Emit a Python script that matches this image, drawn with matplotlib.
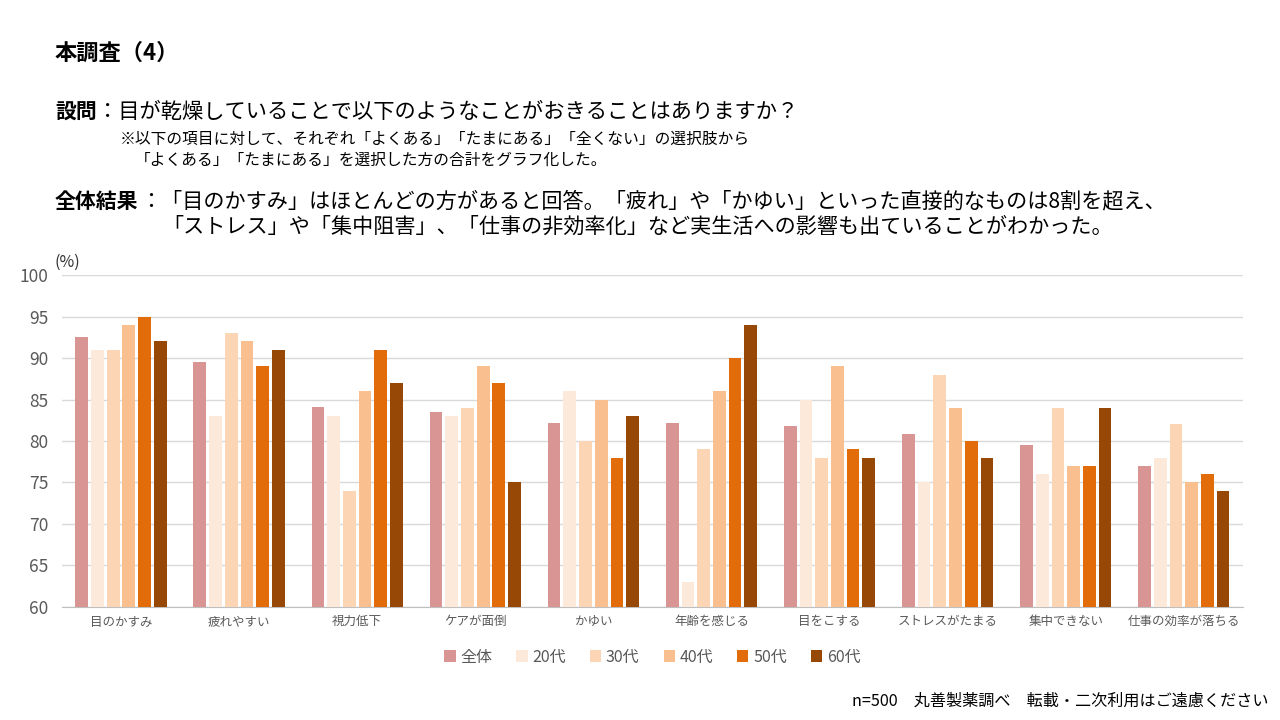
import matplotlib
matplotlib.use("Agg")
import matplotlib.pyplot as plt
import numpy as np

plt.rcParams['font.family'] = ['Noto Sans CJK JP', 'DejaVu Sans']

categories = ["目のかすみ", "疲れやすい", "視力低下", "ケアが面倒", "かゆい",
              "年齢を感じる", "目をこする", "ストレスがたまる", "集中できない", "仕事の効率が落ちる"]
series_names = ["全体", "20代", "30代", "40代", "50代", "60代"]

total = [92.5, 89.5, 84.1, 83.5, 82.2, 82.2, 81.8, 80.9, 79.5, 77.0]
age20 = [91, 83, 83, 83, 86, 63, 85, 75, 76, 78]
age30 = [91, 93, 74, 84, 80, 79, 78, 88, 84, 82]
age40 = [94, 92, 86, 89, 85, 86, 89, 84, 77, 75]
age50 = [95, 89, 91, 87, 78, 90, 79, 80, 77, 76]
age60 = [92, 91, 87, 75, 83, 94, 78, 78, 84, 74]
series = [total, age20, age30, age40, age50, age60]

colors = ["#D99594", "#FDE9D9", "#FCD5B4", "#FABF8F", "#E26B0A", "#974706"]

fig = plt.figure(figsize=(12.8, 7.2), dpi=100)
ax = fig.add_axes([0.0484, 0.157, 0.9226, 0.461])

x = np.arange(len(categories))
slot = 0.133
width = 0.108
for i, (name, vals, c) in enumerate(zip(series_names, series, colors)):
    offs = (i - 2.5) * slot
    ax.bar(x + offs, vals, width, color=c, label=name, zorder=3)

ax.set_ylim(60, 100)
ax.set_xlim(-0.5, len(categories) - 0.5)
ax.set_yticks(range(60, 101, 5))
ax.set_xticks(x)
ax.set_xticklabels(categories, fontsize=9, color="#595959")
ax.tick_params(axis='y', labelsize=12.5, colors="#595959", length=0, pad=10)
ax.tick_params(axis='x', length=0, pad=6)
ax.grid(axis='y', color="#D9D9D9", linewidth=1, zorder=0)
for s in ["top", "right", "left"]:
    ax.spines[s].set_visible(False)
ax.spines["bottom"].set_color("#BFBFBF")

leg = ax.legend(loc="upper center", bbox_to_anchor=(0.5, -0.082), ncol=6, frameon=False,
                fontsize=11.5, handlelength=0.7, handleheight=0.7, handletextpad=0.3,
                columnspacing=1.5, labelcolor="#595959")

fig.text(55/1280, 1 - 53/720, "本調査（4）", fontsize=16, fontweight="bold", va="center")
fig.text(55/1280, 1 - 112/720, "設問", fontsize=15, fontweight="bold", va="center")
fig.text(97/1280, 1 - 112/720, "：目が乾燥していることで以下のようなことがおきることはありますか？",
         fontsize=15.3, va="center")
fig.text(120/1280, 1 - 139/720,
         "※以下の項目に対して、それぞれ「よくある」「たまにある」「全くない」の選択肢から",
         fontsize=11.3, va="center")
fig.text(135/1280, 1 - 160/720, "「よくある」「たまにある」を選択した方の合計をグラフ化した。",
         fontsize=11.3, va="center")
fig.text(55/1280, 1 - 201/720, "全体結果", fontsize=15, fontweight="bold", va="center")
fig.text(140/1280, 1 - 201/720,
         "：「目のかすみ」はほとんどの方があると回答。「疲れ」や「かゆい」といった直接的なものは8割を超え、",
         fontsize=15.2, va="center")
fig.text(162/1280, 1 - 227/720,
         "「ストレス」や「集中阻害」、「仕事の非効率化」など実生活への影響も出ていることがわかった。",
         fontsize=15.2, va="center")
fig.text(55/1280, 1 - 262/720, "(%)", fontsize=11.5, color="#333333", va="center")
fig.text(1268/1280, 1 - 701/720, "n=500　丸善製薬調べ　転載・二次利用はご遠慮ください",
         fontsize=11.6, ha="right", va="center")

fig.savefig("out.png", dpi=100)
